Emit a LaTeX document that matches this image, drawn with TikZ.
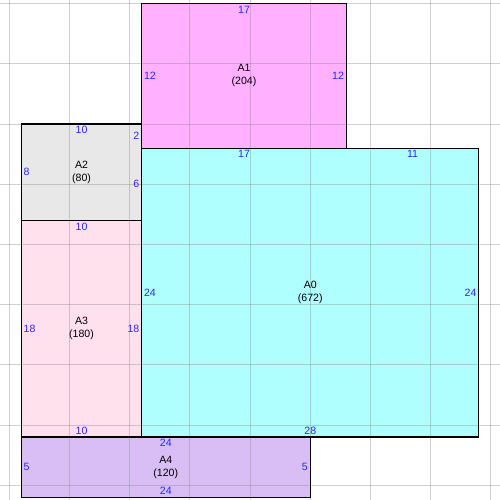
\documentclass[tikz,border=0pt]{standalone}
\usepackage{fontspec}
\setmainfont{Liberation Sans}
\usetikzlibrary{positioning}
\definecolor{fillAzero}{RGB}{176,255,255}
\definecolor{fillAone}{RGB}{255,176,255}
\definecolor{fillAtwo}{RGB}{232,232,232}
\definecolor{fillAthree}{RGB}{255,224,236}
\definecolor{fillAfour}{RGB}{216,190,245}
\definecolor{sideblue}{RGB}{40,40,255}
\tikzstyle{room} = [draw=black, line width=0.8pt]
\tikzstyle{gridline} = [draw=black!47, line width=0.7pt, opacity=0.39]
\tikzstyle{tag} = [align=center, inner sep=0pt, font=\fontsize{7.5}{9.2}\selectfont]
\tikzstyle{side} = [text=sideblue, inner sep=1.5pt, font=\fontsize{7.5}{9}\selectfont]

\begin{document}
\begin{tikzpicture}[x=0.3cm, y=0.3cm]
	\useasboundingbox (-1.77,-0.22) rectangle (39.76,41.3);

	% room fills
	\fill[fillAzero] (10,5) rectangle (38,29);
	\fill[fillAone] (10,29) rectangle (27,41);
	\fill[fillAtwo] (0,23) rectangle (10,31);
	\fill[fillAthree] (0,5) rectangle (10,23);
	\fill[fillAfour] (0,0) rectangle (24,5);

	% grid
	\foreach \x in {-1,4,...,39} \draw[gridline] (\x,-0.22) -- (\x,41.3);
	\foreach \y in {1,6,...,41} \draw[gridline] (-1.77,\y) -- (39.76,\y);

	% room outlines
	\draw[room] (10,5) rectangle (38,29);
	\draw[room] (10,29) rectangle (27,41);
	\draw[room] (0,23) rectangle (10,31);
	\draw[room] (0,5) rectangle (10,23);
	\draw[room] (0,0) rectangle (24,5);

	% room names
	\node [tag] (a0) at (24,17) {A0\\(672)};
	\node [tag] (a1) at (18.5,35) {A1\\(204)};
	\node [tag] (a2) at (5,27) {A2\\(80)};
	\node [tag] (a3) at (5,14) {A3\\(180)};
	\node [tag] (a4) at (12,2.5) {A4\\(120)};

	% side lengths
	\node [side, anchor=north] (a0topl) at (18.5,29) {17};
	\node [side, anchor=north] (a0topr) at (32.5,29) {11};
	\node [side, anchor=west] (a0left) at (10,17) {24};
	\node [side, anchor=east] (a0right) at (38,17) {24};
	\node [side, anchor=south] (a0bottom) at (24,5) {28};

	\node [side, anchor=north] (a1top) at (18.5,41) {17};
	\node [side, anchor=west] (a1left) at (10,35) {12};
	\node [side, anchor=east] (a1right) at (27,35) {12};

	\node [side, anchor=north] (a2top) at (5,31) {10};
	\node [side, anchor=west] (a2left) at (0,27) {8};
	\node [side, anchor=east] (a2rightu) at (10,30) {2};
	\node [side, anchor=east] (a2rightd) at (10,26) {6};

	\node [side, anchor=north] (a3top) at (5,23) {10};
	\node [side, anchor=west] (a3left) at (0,14) {18};
	\node [side, anchor=east] (a3right) at (10,14) {18};
	\node [side, anchor=south] (a3bottom) at (5,5) {10};

	\node [side, anchor=north] (a4top) at (12,5) {24};
	\node [side, anchor=west] (a4left) at (0,2.5) {5};
	\node [side, anchor=east] (a4right) at (24,2.5) {5};
	\node [side, anchor=south] (a4bottom) at (12,0) {24};
\end{tikzpicture}
\end{document}
